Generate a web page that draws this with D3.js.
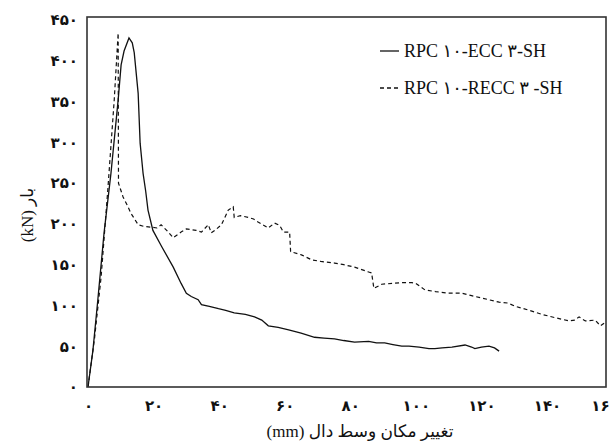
<!DOCTYPE html>
<html>
<head>
<meta charset="utf-8">
<script src="https://cdn.jsdelivr.net/npm/d3@7"></script>
<style>
    body { margin: 0; background: #fff; }
    text { font-family: "Liberation Serif", "DejaVu Sans", serif; fill: #111; }
</style>
</head>
<body>
<div id="chart"></div>
<script>
// Load-deflection data (x: mm, y: kN)
const solidX = [0, 1.5, 3, 4.9, 7, 9.2, 10.1, 11, 12.5, 13.5, 14.1, 15.3, 15.9, 16.8, 17.6, 18.3, 19.8, 22.5, 26, 28.4, 30, 31.5, 33.6, 34.6, 37, 39.8, 42, 44.6, 48, 50.8, 53, 55, 58, 61.2, 65, 69.1, 72, 75.2, 78, 81.3, 85.6, 88, 90.5, 93, 95.7, 97.9, 101, 104, 105.8, 108, 111, 115, 117, 118, 120, 122.3, 124, 125.4];
const solidY = [0, 45, 107, 189, 262, 352, 395, 412, 428, 422, 410, 360, 299, 262, 240, 217, 192, 172, 147, 127, 115, 111, 107, 101, 99, 96, 94, 91, 89, 86, 82, 75, 73, 70, 66, 61, 60, 59, 57, 55, 56, 54, 54, 52, 50, 50, 49, 47, 47, 48, 49, 51.5, 49, 47, 49, 50, 48, 44];

const dashX = [0, 2, 4, 6.1, 8, 9.2, 9.3, 10.7, 12.2, 13.1, 15.3, 17, 19.3, 21, 22.3, 24, 26, 28.4, 30, 31.5, 33, 34.6, 36.7, 37.6, 39, 40.7, 42.8, 44.3, 44.6, 46.5, 48.9, 50.5, 52, 55, 56.9, 58.5, 59.6, 61.5, 61.8, 65.1, 68.2, 71, 75.2, 78, 81.3, 85.6, 86.5, 87.2, 89.6, 95.7, 98.8, 100, 102.8, 106, 110, 114, 117, 120.2, 125.4, 128, 130.3, 134.6, 138.5, 142.5, 146.8, 148.5, 149.8, 151.7, 154.7, 156.3, 158];
const dashY = [0, 60, 135, 245, 352, 434, 250, 233, 221, 213, 199, 197, 196, 195, 199, 192, 183, 190, 194, 193, 192, 190, 199, 189, 193, 199, 217, 221, 208, 210, 208, 206, 202, 195, 201, 198, 190, 190, 166, 162, 156, 154, 152, 150, 147, 141, 140, 121, 126, 128, 128, 127, 119, 117, 115, 115, 112, 109, 104, 103, 99, 94, 89, 85, 81, 82, 86, 81, 82, 75, 80];

const xTicks = [0, 20, 40, 60, 80, 100, 120, 140, 160];
const yTicks = [0, 50, 100, 150, 200, 250, 300, 350, 400, 450];

const seriesNames = ['RPC ۱۰-ECC ۳-SH', 'RPC ۱۰-RECC ۳ -SH'];
const xTitle = 'تغییر مکان وسط دال (mm)';
const yTitle = 'بار (kN)';

const width = 609, height = 444;
const plot = { left: 87, right: 606, top: 17, bottom: 387 };

// Persian digits for tick labels
const toFa = v => String(v).replace(/\d/g, d => '۰۱۲۳۴۵۶۷۸۹'[d]);

const svg = d3.select('#chart')
    .append('svg')
    .attr('width', width)
    .attr('height', height);

const x = d3.scaleLinear().domain([0, 158]).range([plot.left + 1, plot.right]);
const y = d3.scaleLinear().domain([0, 453.7]).range([plot.bottom, plot.top]);

// Axes (labels only, no tick marks)
const xAxis = svg.append('g')
    .attr('transform', `translate(0,${plot.bottom + 10})`)
    .call(d3.axisBottom(x).tickValues(xTicks).tickSize(0).tickFormat(toFa));
xAxis.select('.domain').remove();
xAxis.selectAll('text')
    .attr('font-size', 15)
    .attr('font-weight', 'bold')
    .style('font-family', '"DejaVu Sans", sans-serif')
    .attr('fill', '#111')
    // the last label runs off the right edge in the original too
    .attr('dx', d => d === 160 ? -8 : 0);

const yAxis = svg.append('g')
    .attr('transform', `translate(${plot.left - 6},0)`)
    .call(d3.axisLeft(y).tickValues(yTicks).tickSize(0).tickFormat(toFa));
yAxis.select('.domain').remove();
yAxis.selectAll('text')
    .attr('font-size', 15)
    .attr('font-weight', 'bold')
    .style('font-family', '"DejaVu Sans", sans-serif')
    .attr('fill', '#111');

// Lines
const line = (xs, ys) => d3.line()
    .x((d, i) => x(xs[i]))
    .y((d, i) => y(ys[i]))(xs);

svg.append('path')
    .attr('d', line(solidX, solidY))
    .attr('fill', 'none')
    .attr('stroke', '#111')
    .attr('stroke-width', 1.3);

svg.append('path')
    .attr('d', line(dashX, dashY))
    .attr('fill', 'none')
    .attr('stroke', '#111')
    .attr('stroke-width', 1.2)
    .attr('stroke-dasharray', '4,3');

// Plot frame
svg.append('rect')
    .attr('x', plot.left)
    .attr('y', plot.top)
    .attr('width', plot.right - plot.left)
    .attr('height', plot.bottom - plot.top)
    .attr('fill', 'none')
    .attr('stroke', '#333')
    .attr('stroke-width', 1.6);

// Legend
const legend = svg.append('g');
[0, 1].forEach(i => {
    const ly = 51 + i * 37;
    legend.append('line')
        .attr('x1', 380).attr('x2', 399)
        .attr('y1', ly).attr('y2', ly)
        .attr('stroke', '#111')
        .attr('stroke-width', 1.3)
        .attr('stroke-dasharray', i === 1 ? '4,3' : null);
    legend.append('text')
        .attr('x', 404)
        .attr('y', ly + 6)
        .attr('font-size', 18)
        .attr('direction', 'ltr')
        .text(seriesNames[i]);
});

// Axis titles
svg.append('text')
    .attr('x', 360)
    .attr('y', 437)
    .attr('text-anchor', 'middle')
    .attr('direction', 'rtl')
    .attr('font-size', 17)
    .text(xTitle);

svg.append('text')
    .attr('transform', 'translate(33,215) rotate(-90)')
    .attr('text-anchor', 'middle')
    .attr('direction', 'rtl')
    .attr('font-size', 17)
    .text(yTitle);
</script>
</body>
</html>
